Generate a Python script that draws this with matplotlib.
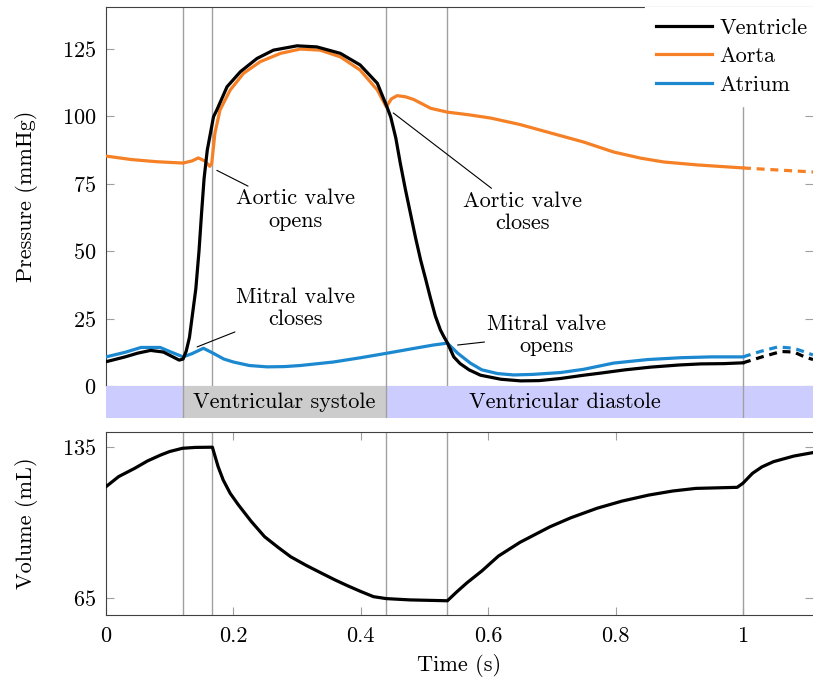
import numpy as np
import matplotlib
matplotlib.use("Agg")
import matplotlib.pyplot as plt

plt.rcParams['font.family'] = 'cmr10'
plt.rcParams['mathtext.fontset'] = 'cm'
plt.rcParams['axes.formatter.use_mathtext'] = True

# --- data ---
t_vent = [0.0, 0.03, 0.05, 0.07, 0.09, 0.105, 0.115, 0.121, 0.126, 0.131, 0.136, 0.141,
          0.146, 0.150, 0.154, 0.159, 0.1688, 0.174, 0.19, 0.211, 0.237, 0.263, 0.30,
          0.331, 0.368, 0.399, 0.426, 0.441, 0.447, 0.455, 0.462, 0.47, 0.478, 0.486,
          0.494, 0.502, 0.509, 0.517, 0.525, 0.53, 0.536, 0.546, 0.556, 0.57, 0.588,
          0.62, 0.651, 0.68, 0.714, 0.75, 0.777, 0.815, 0.855, 0.9, 0.934, 0.97, 1.0]
p_vent = [9.0, 10.8, 12.2, 13.2, 12.6, 10.8, 9.6, 10.0, 13, 18, 27, 36,
          50, 64, 77, 87.5, 99.9, 102.4, 111.0, 116.6, 121.5, 124.6, 126.2,
          125.8, 123.4, 119.1, 112.3, 103.6, 99.8, 92, 82.7, 73, 64, 55,
          46.7, 39.5, 33, 26, 20.8, 18.5, 16, 10.8, 8.3, 6.0, 4.0,
          2.5, 1.9, 2.0, 2.8, 4.0, 4.8, 6.0, 7.0, 7.8, 8.2, 8.3, 8.6]
t_vent_next = [1.0, 1.03, 1.06, 1.08, 1.095, 1.11]
p_vent_next = [8.6, 10.8, 12.8, 12.6, 11.0, 9.8]

t_aorta = [0.0, 0.04, 0.08, 0.121, 0.135, 0.145, 0.155, 0.163, 0.166, 0.171, 0.179,
           0.195, 0.216, 0.242, 0.274, 0.305, 0.336, 0.368, 0.399, 0.426, 0.44, 0.448,
           0.457, 0.47, 0.483, 0.51, 0.536, 0.57, 0.604, 0.65, 0.693, 0.75, 0.797,
           0.84, 0.876, 0.929, 1.0]
p_aorta = [85.3, 84.0, 83.2, 82.7, 83.5, 84.6, 83.5, 81.5, 82.6, 93.8, 102.4,
           109.8, 116, 120.3, 123.4, 125, 124.6, 122.1, 117.2, 109.8, 103.6, 106.5,
           107.7, 107.3, 106.3, 103, 101.6, 100.6, 99.4, 97, 94.2, 90.5, 86.8,
           84.5, 83.1, 82, 80.9]
t_aorta_next = [1.0, 1.05, 1.11]
p_aorta_next = [80.9, 80.2, 79.4]

t_atrium = [0.0, 0.03, 0.055, 0.085, 0.1, 0.121, 0.135, 0.153, 0.168, 0.185, 0.2,
            0.225, 0.253, 0.28, 0.305, 0.357, 0.4, 0.442, 0.48, 0.514, 0.536, 0.552,
            0.572, 0.59, 0.615, 0.64, 0.67, 0.714, 0.75, 0.797, 0.85, 0.903, 0.95, 1.0]
p_atrium = [10.8, 12.5, 14.3, 14.3, 12.8, 10.8, 12, 14, 12.2, 10, 8.9,
            7.6, 7.1, 7.2, 7.6, 8.9, 10.5, 12.2, 13.8, 15.2, 15.9, 12.2,
            8.5, 6.0, 4.6, 4.1, 4.3, 5.0, 6.2, 8.5, 9.8, 10.5, 10.8, 10.8]
t_atrium_next = [1.0, 1.03, 1.055, 1.08, 1.095, 1.11]
p_atrium_next = [10.8, 13, 14.5, 14, 12.8, 11.5]

t_vol = [0.0, 0.02, 0.045, 0.065, 0.086, 0.1, 0.12, 0.14, 0.167, 0.176, 0.184, 0.195,
         0.208, 0.228, 0.249, 0.27, 0.29, 0.315, 0.339, 0.36, 0.379, 0.4, 0.42, 0.44,
         0.477, 0.536, 0.551, 0.567, 0.59, 0.616, 0.65, 0.697, 0.73, 0.771, 0.81,
         0.852, 0.89, 0.926, 0.991, 1.0, 1.015, 1.03, 1.048, 1.08, 1.11]
v_vol = [116.6, 121.3, 125.1, 128.5, 131.3, 132.9, 134.4, 134.8, 134.9, 125.9, 119.7, 113.5,
         108.1, 100.5, 93.4, 88.5, 84.1, 80.0, 76.4, 73.3, 70.7, 68.0, 65.6, 64.7,
         64.1, 63.7, 67.9, 72.1, 77.5, 84.4, 90.8, 98.0, 102.2, 106.6, 109.9,
         112.7, 114.6, 115.8, 116.3, 118.2, 122.8, 125.8, 128.2, 130.8, 132.4]

events = [0.121, 0.167, 0.44, 0.536, 1.0]
phases = [(0.0, 0.121, '#ccccff', ''),
          (0.121, 0.44, '#cccccc', 'Ventricular systole'),
          (0.44, 1.0, '#ccccff', 'Ventricular diastole'),
          (1.0, 1.11, '#ccccff', '')]

c_vent = 'black'
c_aorta = '#f58025'
c_atrium = '#1b88d0'
c_grid = '#a0a0a0'
c_spine = '#404040'
fs = 16
lw = 2.3
xmax = 1.11

fig = plt.figure(figsize=(8.13, 6.88), dpi=100)
ax = fig.add_axes([106 / 813, 1 - 386 / 688, 1 - 106 / 813, 379 / 688])
axb = fig.add_axes([106 / 813, 1 - 418 / 688, 1 - 106 / 813, 32 / 688])
axv = fig.add_axes([106 / 813, 1 - 615 / 688, 1 - 106 / 813, 183 / 688])

# pressure panel
for e in events:
    ax.axvline(e, color=c_grid, lw=1.0, zorder=1)
ax.plot(t_vent, p_vent, color=c_vent, lw=lw, label='Ventricle', zorder=4)
ax.plot(t_aorta, p_aorta, color=c_aorta, lw=lw, label='Aorta', zorder=3)
ax.plot(t_atrium, p_atrium, color=c_atrium, lw=lw, label='Atrium', zorder=3)
ax.plot(t_vent_next, p_vent_next, color=c_vent, lw=lw, ls=(0, (2.5, 1.8)), zorder=4)
ax.plot(t_aorta_next, p_aorta_next, color=c_aorta, lw=lw, ls=(0, (2.5, 1.8)), zorder=3)
ax.plot(t_atrium_next, p_atrium_next, color=c_atrium, lw=lw, ls=(0, (2.5, 1.8)), zorder=3)
ax.set_xlim(0, xmax)
ax.set_ylim(0, 140.6)
ax.set_yticks([0, 25, 50, 75, 100, 125])
ax.set_xticks([])
ax.tick_params(axis='y', direction='in', left=True, right=True, length=6,
               color=c_grid, labelsize=fs, pad=7)
ax.set_ylabel('Pressure (mmHg)', fontsize=fs, labelpad=17)
ax.spines['right'].set_visible(False)
ax.spines['bottom'].set_color(c_grid)
ax.spines['left'].set_color(c_spine)
ax.spines['top'].set_color(c_spine)

ann = dict(fontsize=fs, ha='center', va='center', linespacing=1.2,
           arrowprops=dict(arrowstyle='-', color='black', lw=0.8, shrinkA=0, shrinkB=0))
ax.annotate('Aortic valve\nopens', xy=(0.174, 80), xytext=(0.297, 65.3), **ann)
ax.annotate('Aortic valve\ncloses', xy=(0.451, 101.3), xytext=(0.654, 64.5), **ann)
ax.annotate('Mitral valve\ncloses', xy=(0.143, 14.5), xytext=(0.297, 28.9), **ann)
ax.annotate('Mitral valve\nopens', xy=(0.552, 15.2), xytext=(0.692, 18.9), **ann)

leg = ax.legend(loc='upper right', bbox_to_anchor=(1.008, 1.0), fontsize=fs,
                frameon=True, framealpha=1, edgecolor='white', fancybox=False,
                handlelength=2.5, handletextpad=0.35, labelspacing=0.4,
                borderpad=0.5, borderaxespad=0.0)
leg.set_zorder(10)

# phase band
for x0, x1, col, lab in phases:
    axb.axvspan(x0, x1, color=col, lw=0)
    if lab:
        axb.text((x0 + x1) / 2, 0.5, lab, ha='center', va='center', fontsize=fs,
                 transform=axb.get_xaxis_transform())
for e in [0.121, 0.44, 1.0]:
    axb.axvline(e, color=c_grid, lw=1.0)
axb.set_xlim(0, xmax)
axb.set_ylim(0, 1)
axb.axis('off')

# volume panel
for e in events:
    axv.axvline(e, color=c_grid, lw=1.0, zorder=1)
axv.plot(t_vol, v_vol, color=c_vent, lw=lw, zorder=3)
axv.set_xlim(0, xmax)
axv.set_ylim(57.1, 141.95)
axv.set_yticks([65, 135])
axv.set_xticks([0, 0.2, 0.4, 0.6, 0.8, 1.0])
axv.set_xticklabels(['0', '0.2', '0.4', '0.6', '0.8', '1'])
axv.tick_params(direction='in', left=True, right=True, top=True, bottom=True,
                length=6, color=c_grid, labelsize=fs, pad=7)
axv.tick_params(axis='x', pad=8)
axv.set_ylabel('Volume (mL)', fontsize=fs, labelpad=17)
axv.set_xlabel('Time (s)', fontsize=fs, labelpad=6)
axv.spines['right'].set_visible(False)
for s in ['left', 'top', 'bottom']:
    axv.spines[s].set_color(c_spine)

fig.savefig('out.png', dpi=100)
